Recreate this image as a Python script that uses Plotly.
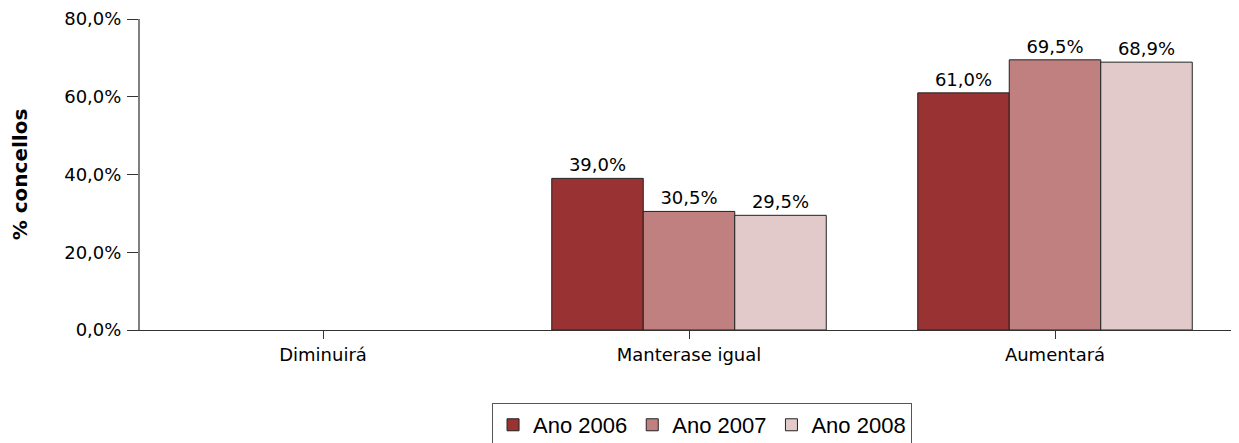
import plotly.graph_objects as go

categorias = ['Diminuirá', 'Manterase igual', 'Aumentará']
anos = ['Ano 2006', 'Ano 2007', 'Ano 2008']
valores_2006 = [None, 39.0, 61.0]
valores_2007 = [None, 30.5, 69.5]
valores_2008 = [None, 29.5, 68.9]
cores = ['#993333', '#C08080', '#E3CACA']
ticks_y = [0, 20, 40, 60, 80]


def pct(v):
    return f'{v:.1f}%'.replace('.', ',')


fig = go.Figure()
for nome, valores, cor in zip(anos, [valores_2006, valores_2007, valores_2008], cores):
    textos = ['' if v is None else pct(v) for v in valores]
    fig.add_trace(go.Bar(
        x=categorias,
        y=valores,
        name=nome,
        text=textos,
        textposition='outside',
        cliponaxis=False,
        textfont=dict(family='DejaVu Sans', size=18, color='black'),
        marker=dict(color=cor, line=dict(color='#222222', width=1)),
    ))

# a pagina ten 8px de marxe no body, por iso a figura e un pouco menor
fig.update_layout(
    width=1231, height=435,
    barmode='group', bargap=0.25, bargroupgap=0,
    plot_bgcolor='white', paper_bgcolor='white',
    margin=dict(l=132, r=1, t=11, b=113, autoexpand=False),
    font=dict(family='DejaVu Sans', size=18, color='black'),
    legend=dict(
        orientation='h', xref='container', x=0.5638, xanchor='center',
        yref='container', y=0.092, yanchor='top',
        bordercolor='#555555', borderwidth=1,
        font=dict(family='Liberation Sans', size=22, color='black'),
        traceorder='normal',
    ),
)
fig.update_yaxes(
    range=[0, 80], tickvals=ticks_y, ticktext=[pct(t) for t in ticks_y],
    showgrid=False, zeroline=False,
    showline=True, linecolor='#808080', linewidth=2,
    ticks='outside', ticklen=11, tickcolor='#333333', ticklabelstandoff=2,
    title=dict(text='<b>% concellos</b>', font=dict(size=20), standoff=34),
)
fig.update_xaxes(
    showgrid=False, showline=True, linecolor='#333333', linewidth=1,
    ticks='outside', ticklen=8, tickcolor='#333333',
)

fig.write_html('out.html')
